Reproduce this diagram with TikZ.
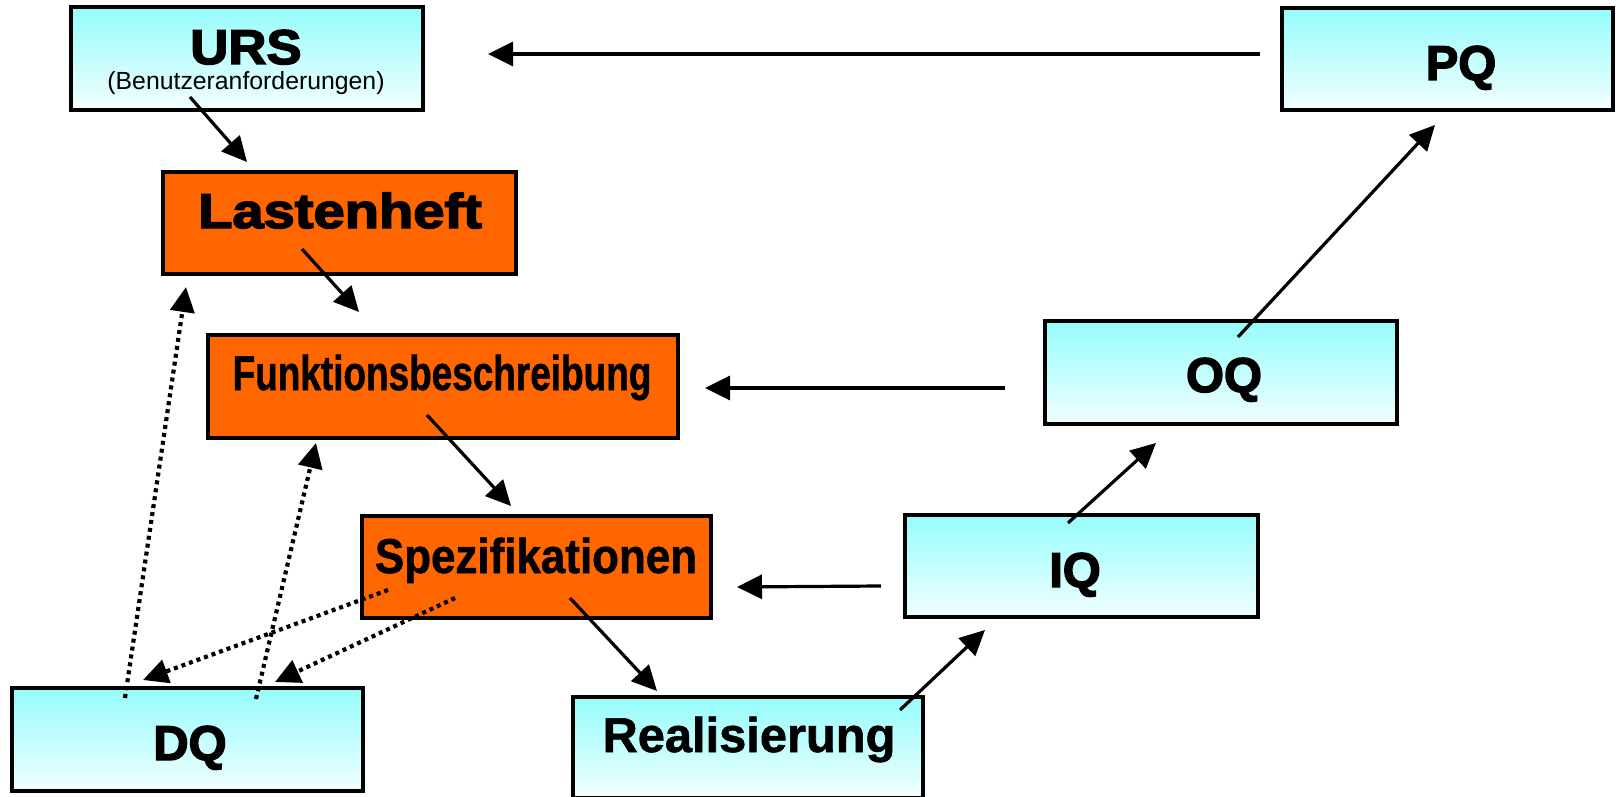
\documentclass[tikz,border=0pt]{standalone}
\usepackage{fontspec}
\usepackage{graphicx}
\setmainfont{Liberation Sans}
\newfontfamily\heavyfont{Liberation Sans}[BoldFeatures={FakeBold=3}]
\newfontfamily\semifont{Liberation Sans}[BoldFeatures={FakeBold=1.2}]
\usetikzlibrary{arrows.meta,fit}
\definecolor{boxorange}{RGB}{255,102,0}
\definecolor{cyantop}{RGB}{150,252,252}
\definecolor{cyanbot}{RGB}{242,255,255}
\begin{document}
\begin{tikzpicture}[x=0.5pt,y=-0.5pt,
  boxbase/.style={draw=black,line width=1.8pt,inner sep=0pt,rectangle},
  bluebox/.style={boxbase,top color=cyantop,bottom color=cyanbot},
  orangebox/.style={boxbase,fill=boxorange},
  big/.style={anchor=base,inner sep=0pt,font=\fontsize{24.4pt}{28pt}\selectfont\semifont\bfseries},
  heavy/.style={anchor=base,inner sep=0pt,font=\fontsize{24.4pt}{28pt}\selectfont\heavyfont\bfseries},
  small/.style={anchor=base,inner sep=0pt,font=\fontsize{12.4pt}{14pt}\selectfont},
  conn/.style={line width=1.6pt,-{Triangle[length=12.5pt,width=12pt]}},
  dotconn/.style={line width=2.1pt,dash pattern=on 2pt off 2pt,-{Triangle[length=12.5pt,width=12pt]}},
]
\useasboundingbox (0,0) rectangle (1619,797);

% boxes
\node[bluebox,fit={(71,7)(423,110)}] (urs) {};
\node[bluebox,fit={(1282,8)(1613,110)}] (pq) {};
\node[orangebox,fit={(163,172)(516,274)}] (lh) {};
\node[orangebox,fit={(208,335)(678,438)}] (fb) {};
\node[bluebox,fit={(1045,321)(1397,424)}] (oq) {};
\node[orangebox,fit={(362,516)(711,618)}] (sp) {};
\node[bluebox,fit={(905,515)(1258,617)}] (iq) {};
\node[bluebox,fit={(12,688)(363,791)}] (dq) {};
\node[bluebox,fit={(573,697)(923,798)}] (re) {};

% texts
\node[heavy] (urst) at (246,64) {\scalebox{1.08}[1]{URS}};
\node[small] (urss) at (246,90) {(Benutzeranforderungen)};
\node[heavy] (pqt) at (1461,80) {PQ};
\node[heavy] (lht) at (340,228) {\scalebox{1.15}[1]{Lastenheft}};
\node[big] (fbt) at (442,390) {\scalebox{0.757}[1]{Funktionsbeschreibung}};
\node[heavy] (oqt) at (1224,392) {OQ};
\node[big] (spt) at (536,573) {\scalebox{0.9}[1]{Spezifikationen}};
\node[heavy] (iqt) at (1075,587) {IQ};
\node[heavy] (dqt) at (190,760) {DQ};
\node[big] (ret) at (749,752) {Realisierung};

% connector ends
\coordinate (pq-o) at (1260,54);   \coordinate (urs-i) at (488,54);
\coordinate (urs-o) at (190,97);   \coordinate (lh-i) at (247,162);
\coordinate (lh-o) at (302,249);   \coordinate (fb-i1) at (359,312);
\coordinate (oq-o1) at (1005,388); \coordinate (fb-i2) at (705,388);
\coordinate (fb-o) at (427,415);   \coordinate (sp-i1) at (511,506);
\coordinate (iq-o1) at (881,586);  \coordinate (sp-i2) at (737,587);
\coordinate (sp-o) at (570,598);   \coordinate (re-i) at (657,691);
\coordinate (re-o) at (900,710);   \coordinate (iq-i) at (985,630);
\coordinate (iq-o2) at (1068,523); \coordinate (oq-i) at (1156,443);
\coordinate (oq-o2) at (1238,337); \coordinate (pq-i) at (1435,125);
\coordinate (dq-o1) at (125,698);  \coordinate (lh-i2) at (186,287);
\coordinate (dq-o2) at (256,699);  \coordinate (fb-i3) at (316,443);
\coordinate (sp-o2) at (388,590);  \coordinate (dq-i1) at (143,680);
\coordinate (sp-o3) at (455,598);  \coordinate (dq-i2) at (275,682);

% solid connectors
\draw[conn] (pq-o) -- (urs-i);
\draw[conn] (urs-o) -- (lh-i);
\draw[conn] (lh-o) -- (fb-i1);
\draw[conn] (oq-o1) -- (fb-i2);
\draw[conn] (fb-o) -- (sp-i1);
\draw[conn] (iq-o1) -- (sp-i2);
\draw[conn] (sp-o) -- (re-i);
\draw[conn] (re-o) -- (iq-i);
\draw[conn] (iq-o2) -- (oq-i);
\draw[conn] (oq-o2) -- (pq-i);

% dotted connectors
\draw[dotconn] (dq-o1) -- (lh-i2);
\draw[dotconn] (dq-o2) -- (fb-i3);
\draw[dotconn] (sp-o2) -- (dq-i1);
\draw[dotconn] (sp-o3) -- (dq-i2);
\end{tikzpicture}
\end{document}
